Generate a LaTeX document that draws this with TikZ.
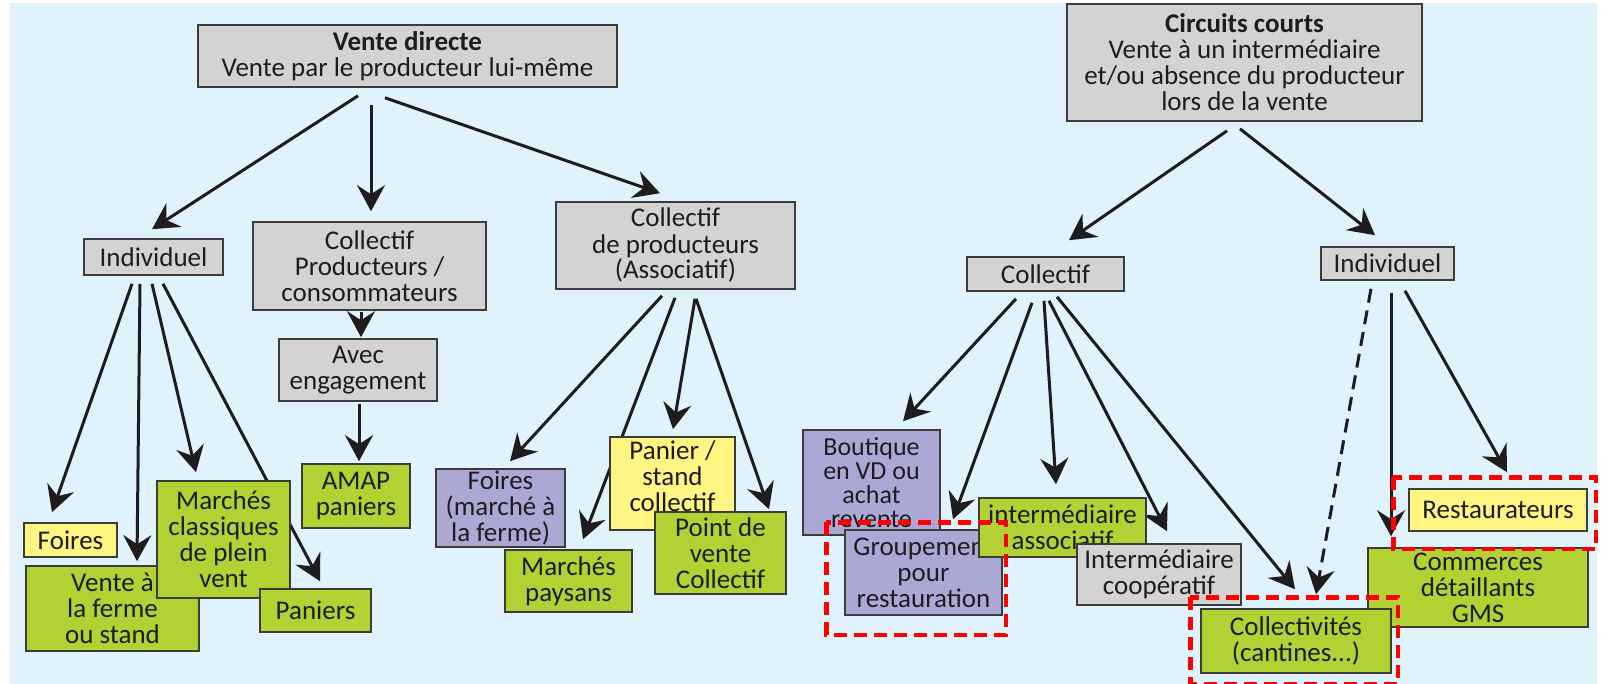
\documentclass[tikz,border=0pt]{standalone}
\usepackage{fontspec}
\setmainfont{Carlito}
\usetikzlibrary{arrows.meta}

\definecolor{bgblue}{RGB}{224,242,252}
\definecolor{boxgrey}{RGB}{211,211,211}
\definecolor{boxgreen}{RGB}{178,210,52}
\definecolor{boxyellow}{RGB}{255,245,130}
\definecolor{boxpurple}{RGB}{172,168,213}
\definecolor{boxline}{RGB}{60,60,60}
\definecolor{arrowdark}{RGB}{30,28,30}
\definecolor{framered}{RGB}{255,0,0}

\pgfdeclarelayer{back}
\pgfdeclarelayer{links}
\pgfsetlayers{back,links,main}

\begin{document}
\begin{tikzpicture}[x=0.5pt,y=-0.5pt,
  box/.style={draw=boxline,line width=0.8pt,inner sep=0pt,align=center,
    text=arrowdark,font=\fontsize{13.5}{13}\selectfont},
  boxsize/.style 2 args={minimum width=#1,minimum height=#2},
  greybox/.style={box,fill=boxgrey},
  greenbox/.style={box,fill=boxgreen},
  yellowbox/.style={box,fill=boxyellow},
  purplebox/.style={box,fill=boxpurple},
  arr/.style={-{Stealth[length=13pt,width=14pt,inset=4.5pt]},line width=1.5pt,draw=arrowdark},
  redframe/.style={draw=framered,line width=2.3pt,dash pattern=on 6.5pt off 3.5pt}]

\useasboundingbox (0,0) rectangle (1612,684);

% Background
\begin{pgfonlayer}{back}
\fill[bgblue] (10,3) rectangle (1597,684);
\end{pgfonlayer}

% Top level
\node[greybox,boxsize={209.5pt}{31pt}] (vd) at (407.5,56)
  {\textbf{Vente directe}\\Vente par le producteur lui-même};
\node[greybox,boxsize={177.5pt}{58.5pt}] (ccourts) at (1244.5,62.5)
  {\textbf{Circuits courts}\\Vente à un intermédiaire\\et/ou absence du producteur\\lors de la vente};

% Vente directe branches
\node[greybox,boxsize={69.5pt}{18pt}] (indL) at (153.5,257) {Individuel};
\node[greybox,boxsize={116.5pt}{44pt}] (colPC) at (369.5,266) {Collectif\\Producteurs /\\consommateurs};
\node[greybox,boxsize={119.5pt}{43.5pt}] (colProd) at (675.5,245.5) {Collectif\\de producteurs\\(Associatif)};
\node[greybox,boxsize={79pt}{31pt}] (avec) at (358,370) {Avec\\engagement};
\node[greenbox,boxsize={54pt}{32pt}] (amap) at (356,496) {AMAP\\paniers};

% Individuel (vente directe)
\node[yellowbox,boxsize={46.5pt}{17pt}] (foiresL) at (70.5,540) {Foires};
\node[greenbox,boxsize={86.5pt}{42.5pt}] (venteFerme) at (112.5,608.5) {Vente à\\la ferme\\ou stand};
\node[greenbox,boxsize={66.5pt}{58.5pt}] (marchesCl) at (223.5,539.5) {Marchés\\classiques\\de plein\\vent};
\node[greenbox,boxsize={55.5pt}{21.5pt}] (paniers) at (315.5,610.5) {Paniers};

% Collectif de producteurs
\node[purplebox,boxsize={64.5pt}{39pt}] (foiresFerme) at (500.5,508) {Foires\\(marché à\\la ferme)};
\node[greenbox,boxsize={63.5pt}{31pt}] (marchesPay) at (568.5,581) {Marchés\\paysans};
\node[yellowbox,boxsize={62.5pt}{46.5pt}] (panierStand) at (672.5,483.5) {Panier /\\stand\\collectif\\[-6pt]~};
\node[greenbox,boxsize={65.5pt}{41pt}] (pointVente) at (720.5,553) {Point de\\vente\\Collectif};

% Circuits courts branches
\node[greybox,boxsize={78.5pt}{17pt}] (colR) at (1045.5,274) {Collectif};
\node[greybox,boxsize={66.5pt}{16.5pt}] (indR) at (1387.5,263.5) {Individuel};

\node[purplebox,boxsize={68.5pt}{52.5pt},font=\fontsize{13}{12}\selectfont] (boutique) at (871.5,482.5)
  {Boutique\\en VD ou\\achat\\revente};
\node[purplebox,boxsize={78.5pt}{42.5pt}] (groupement) at (923.5,572.5) {Groupement\\pour\\restauration};
\node[greenbox,boxsize={83.5pt}{29.5pt}] (interAsso) at (1062.5,527.5) {intermédiaire\\associatif};
\node[greybox,boxsize={82pt}{30.5pt}] (interCoop) at (1159,574.5) {Intermédiaire\\coopératif};
\node[greenbox,boxsize={110pt}{39.5pt}] (commerces) at (1478,587.5) {Commerces\\détaillants\\GMS};
\node[greenbox,boxsize={95pt}{32pt}] (collectivites) at (1296,641) {Collectivités\\(cantines...)};
\node[yellowbox,boxsize={89pt}{21pt}] (restaurateurs) at (1498,510) {Restaurateurs};

% Arrows
\begin{pgfonlayer}{links}
\draw[arr] ([xshift=-24.75pt,yshift=-4pt]vd.south) -- ([xshift=-0.75pt,yshift=4.5pt]indL.north);
\draw[arr] ([xshift=-18.25pt,yshift=-8.5pt]vd.south) -- ([xshift=0.75pt,yshift=5pt]colPC.north);
\draw[arr] ([xshift=-11.25pt,yshift=-5pt]vd.south) -- ([xshift=-7.75pt,yshift=4pt]colProd.north);
\draw[arr] ([xshift=-4.25pt,yshift=-0.5pt]colPC.south) -- ([xshift=1.5pt,yshift=0.5pt]avec.north);
\draw[arr] ([xshift=0.5pt,yshift=-1pt]avec.south) -- ([xshift=1.5pt,yshift=1pt]amap.north);

\draw[arr] ([xshift=-10.75pt,yshift=-4pt]indL.south) -- ([xshift=-9.25pt,yshift=5pt]foiresL.north);
\draw[arr] ([xshift=-6.75pt,yshift=-4pt]indL.south) -- ([xshift=12.25pt,yshift=2pt]venteFerme.north);
\draw[arr] ([xshift=-0.75pt,yshift=-4pt]indL.south) -- ([xshift=-13.75pt,yshift=4pt]marchesCl.north);
\draw[arr] ([xshift=4.75pt,yshift=-4pt]indL.south) -- ([xshift=2.25pt,yshift=3.5pt]paniers.north);

\draw[arr] ([xshift=-6.75pt,yshift=-3pt]colProd.south) -- ([xshift=4.75pt,yshift=3.5pt]foiresFerme.north);
\draw[arr] ([xshift=-0.25pt,yshift=-4pt]colProd.south) -- ([xshift=7.25pt,yshift=5pt]marchesPay.north);
\draw[arr] ([xshift=9.75pt,yshift=-4.5pt]colProd.south) -- ([xshift=0.25pt,yshift=3.5pt]panierStand.north);
\draw[arr] ([xshift=10.25pt,yshift=-4.5pt]colProd.south) -- ([xshift=24.25pt,yshift=1pt]pointVente.north);

\draw[arr] ([xshift=-8.75pt,yshift=-4.5pt]ccourts.south) -- ([xshift=11.75pt,yshift=8pt]colR.north);
\draw[arr] ([xshift=-2.25pt,yshift=-3.5pt]ccourts.south) -- ([xshift=-6.25pt,yshift=5.5pt]indR.north);

\draw[arr] ([xshift=-14.75pt,yshift=-3.5pt]colR.south) -- ([xshift=15.75pt,yshift=4pt]boutique.north);
\draw[arr] ([xshift=-6.75pt,yshift=-5.5pt]colR.south) -- ([xshift=14.75pt,yshift=5pt]groupement.north);
\draw[arr] ([xshift=-0.75pt,yshift=-4.5pt]colR.south) -- ([xshift=-3.25pt,yshift=6.5pt]interAsso.north);
\draw[arr] ([xshift=1.75pt,yshift=-4.5pt]colR.south) -- ([xshift=4pt,yshift=6pt]interCoop.north);
\draw[arr] ([xshift=5.75pt,yshift=-2.5pt]colR.south) -- ([xshift=-0.5pt,yshift=9.5pt]collectivites.north);

\draw[arr,dash pattern=on 7pt off 4pt] ([xshift=-8.25pt,yshift=-4pt]indR.south) -- ([xshift=10pt,yshift=7pt]collectivites.north);
\draw[arr] ([xshift=1.75pt,yshift=-6pt]indR.south) -- ([xshift=-43.5pt,yshift=5.5pt]commerces.north);
\draw[arr] ([xshift=8.75pt,yshift=-5pt]indR.south) -- ([xshift=4.5pt,yshift=8pt]restaurateurs.north);
\end{pgfonlayer}

% Red highlight frames
\draw[redframe] ([xshift=-9pt,yshift=3.5pt]groupement.north west) rectangle ([xshift=1.5pt,yshift=-9.5pt]groupement.south east);
\draw[redframe] ([xshift=-5pt,yshift=5.5pt]collectivites.north west) rectangle ([xshift=3pt,yshift=-5pt]collectivites.south east);
\draw[redframe] ([xshift=-7.5pt,yshift=5.5pt]restaurateurs.north west) rectangle ([xshift=4pt,yshift=-8.5pt]restaurateurs.south east);

\end{tikzpicture}
\end{document}
